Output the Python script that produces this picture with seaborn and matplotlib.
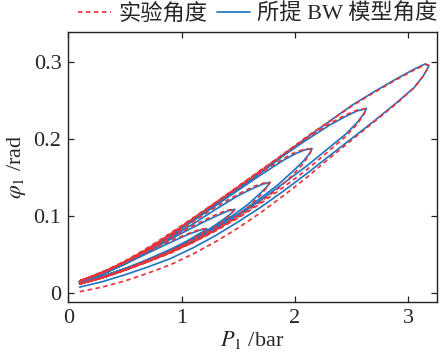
import matplotlib
matplotlib.use('Agg')
import matplotlib.pyplot as plt
import seaborn as sns
import pandas as pd

# ---- data: six hysteresis loops, P1 (bar) vs phi1 (rad) ----
# each loop: lower (loading) branch then upper (unloading) branch
loop1_low_p = [0.10, 0.30, 0.50, 0.70, 0.90, 1.10, 1.30, 1.50, 1.70, 1.90, 2.10, 2.30, 2.50, 2.70, 2.90, 3.05, 3.13, 3.17, 3.18]
loop1_low_model = [0.008, 0.015, 0.024, 0.034, 0.045, 0.059, 0.075, 0.093, 0.112, 0.133, 0.155, 0.178, 0.201, 0.224, 0.248, 0.267, 0.282, 0.292, 0.296]
loop1_low_exp = [0.002, 0.008, 0.016, 0.026, 0.037, 0.051, 0.067, 0.085, 0.105, 0.127, 0.150, 0.175, 0.199, 0.223, 0.247, 0.267, 0.282, 0.292, 0.296]
loop1_up_p = [3.18, 3.15, 3.05, 2.90, 2.70, 2.50, 2.30, 2.10, 1.90, 1.70, 1.50, 1.30, 1.10, 0.90, 0.70, 0.50, 0.35, 0.20, 0.10]
loop1_up_model = [0.296, 0.298, 0.291, 0.279, 0.262, 0.244, 0.223, 0.202, 0.180, 0.158, 0.137, 0.116, 0.096, 0.076, 0.057, 0.040, 0.030, 0.021, 0.015]
loop1_up_exp = [0.296, 0.297, 0.290, 0.278, 0.261, 0.243, 0.223, 0.203, 0.181, 0.160, 0.139, 0.118, 0.098, 0.078, 0.059, 0.042, 0.031, 0.022, 0.016]

loop2_low_p = [0.10, 0.30, 0.50, 0.70, 0.90, 1.10, 1.30, 1.50, 1.70, 1.90, 2.10, 2.30, 2.45, 2.55, 2.61, 2.63]
loop2_low_model = [0.014, 0.022, 0.032, 0.042, 0.053, 0.067, 0.083, 0.101, 0.121, 0.143, 0.165, 0.189, 0.207, 0.222, 0.234, 0.240]
loop2_low_exp = [0.012, 0.020, 0.030, 0.041, 0.052, 0.066, 0.081, 0.098, 0.117, 0.138, 0.160, 0.185, 0.204, 0.220, 0.233, 0.240]
loop2_up_p = [2.63, 2.55, 2.45, 2.30, 2.10, 1.90, 1.70, 1.50, 1.30, 1.10, 0.90, 0.70, 0.50, 0.35, 0.20, 0.10]
loop2_up_model = [0.240, 0.237, 0.230, 0.218, 0.199, 0.179, 0.157, 0.136, 0.115, 0.095, 0.075, 0.056, 0.039, 0.029, 0.020, 0.015]
loop2_up_exp = [0.240, 0.238, 0.232, 0.220, 0.201, 0.181, 0.160, 0.139, 0.118, 0.097, 0.077, 0.058, 0.041, 0.030, 0.021, 0.016]

loop3_low_p = [0.10, 0.30, 0.50, 0.70, 0.90, 1.10, 1.30, 1.50, 1.70, 1.85, 1.97, 2.07, 2.13, 2.15]
loop3_low_model = [0.013, 0.021, 0.031, 0.042, 0.054, 0.068, 0.085, 0.103, 0.124, 0.141, 0.157, 0.171, 0.182, 0.188]
loop3_low_exp = [0.012, 0.020, 0.030, 0.041, 0.053, 0.066, 0.082, 0.099, 0.119, 0.136, 0.152, 0.168, 0.181, 0.188]
loop3_up_p = [2.15, 2.08, 2.00, 1.90, 1.70, 1.50, 1.30, 1.10, 0.90, 0.70, 0.50, 0.35, 0.20, 0.10]
loop3_up_model = [0.188, 0.186, 0.181, 0.173, 0.154, 0.134, 0.114, 0.094, 0.074, 0.055, 0.039, 0.028, 0.020, 0.015]
loop3_up_exp = [0.188, 0.187, 0.183, 0.175, 0.157, 0.137, 0.117, 0.097, 0.076, 0.057, 0.041, 0.030, 0.021, 0.016]

loop4_low_p = [0.10, 0.30, 0.50, 0.70, 0.90, 1.10, 1.30, 1.45, 1.58, 1.68, 1.75, 1.78]
loop4_low_model = [0.013, 0.021, 0.031, 0.042, 0.055, 0.070, 0.087, 0.101, 0.115, 0.128, 0.138, 0.144]
loop4_low_exp = [0.012, 0.020, 0.030, 0.041, 0.053, 0.067, 0.083, 0.097, 0.111, 0.125, 0.137, 0.144]
loop4_up_p = [1.78, 1.72, 1.64, 1.50, 1.30, 1.10, 0.90, 0.70, 0.50, 0.35, 0.20, 0.10]
loop4_up_model = [0.144, 0.142, 0.137, 0.127, 0.109, 0.090, 0.072, 0.054, 0.038, 0.028, 0.020, 0.015]
loop4_up_exp = [0.144, 0.143, 0.139, 0.129, 0.112, 0.093, 0.074, 0.056, 0.040, 0.029, 0.021, 0.016]

loop5_low_p = [0.10, 0.30, 0.50, 0.70, 0.90, 1.10, 1.25, 1.36, 1.43, 1.47]
loop5_low_model = [0.013, 0.021, 0.031, 0.043, 0.056, 0.071, 0.084, 0.095, 0.103, 0.109]
loop5_low_exp = [0.012, 0.020, 0.030, 0.041, 0.054, 0.068, 0.081, 0.093, 0.102, 0.109]
loop5_up_p = [1.47, 1.41, 1.33, 1.20, 1.00, 0.80, 0.60, 0.40, 0.25, 0.10]
loop5_up_model = [0.109, 0.107, 0.102, 0.093, 0.078, 0.062, 0.046, 0.032, 0.023, 0.015]
loop5_up_exp = [0.109, 0.108, 0.104, 0.095, 0.080, 0.064, 0.048, 0.034, 0.024, 0.016]

loop6_low_p = [0.10, 0.30, 0.50, 0.70, 0.90, 1.05, 1.15, 1.20, 1.22]
loop6_low_model = [0.013, 0.022, 0.032, 0.044, 0.057, 0.068, 0.077, 0.081, 0.084]
loop6_low_exp = [0.012, 0.021, 0.031, 0.043, 0.055, 0.066, 0.075, 0.080, 0.084]
loop6_up_p = [1.22, 1.16, 1.05, 0.90, 0.70, 0.50, 0.30, 0.10]
loop6_up_model = [0.084, 0.082, 0.076, 0.066, 0.052, 0.038, 0.025, 0.015]
loop6_up_exp = [0.084, 0.083, 0.077, 0.068, 0.054, 0.040, 0.027, 0.016]

x_ticks = [0, 1, 2, 3]
y_ticks = [0, 0.1, 0.2, 0.3]
y_tick_labels = ['0', '0.1', '0.2', '0.3']
label_exp = '实验角度'
label_model = '所提 BW 模型角度'

# ---- build one continuous trajectory per series ----
branches = [
    (loop1_low_p, loop1_low_model, loop1_low_exp), (loop1_up_p, loop1_up_model, loop1_up_exp),
    (loop2_low_p, loop2_low_model, loop2_low_exp), (loop2_up_p, loop2_up_model, loop2_up_exp),
    (loop3_low_p, loop3_low_model, loop3_low_exp), (loop3_up_p, loop3_up_model, loop3_up_exp),
    (loop4_low_p, loop4_low_model, loop4_low_exp), (loop4_up_p, loop4_up_model, loop4_up_exp),
    (loop5_low_p, loop5_low_model, loop5_low_exp), (loop5_up_p, loop5_up_model, loop5_up_exp),
    (loop6_low_p, loop6_low_model, loop6_low_exp), (loop6_up_p, loop6_up_model, loop6_up_exp),
]
p_all, model_all, exp_all = [], [], []
for p, m, e in branches:
    p_all += p
    model_all += m
    exp_all += e
df = pd.DataFrame({'P': p_all, 'model': model_all, 'exp': exp_all})

sns.set_style('ticks')
plt.rcParams['font.family'] = ['Liberation Serif', 'Noto Sans CJK SC', 'DejaVu Sans']
plt.rcParams['mathtext.fontset'] = 'stix'
plt.rcParams['font.size'] = 16

blue = '#2477c0'
red = '#e8343a'

fig = plt.figure(figsize=(4.46, 3.61), dpi=100)
ax = fig.add_axes([0.1534, 0.1643, 0.9791 - 0.1534, 0.9105 - 0.1643])

sns.lineplot(data=df, x='P', y='model', sort=False, estimator=None, ax=ax,
             color=blue, linewidth=1.25, label=label_model)
sns.lineplot(data=df, x='P', y='exp', sort=False, estimator=None, ax=ax,
             color=red, linewidth=1.25, dashes=False, label=label_exp)
ax.lines[-1].set_linestyle((0, (2.6, 2.0)))

ax.set_xlim(0, 3.25)
ax.set_ylim(-0.011, 0.339)
ax.set_xticks(x_ticks)
ax.set_xticklabels([str(t) for t in x_ticks])
ax.set_yticks(y_ticks)
ax.set_yticklabels(y_tick_labels)
ax.tick_params(direction='in', top=True, right=True, length=4, width=0.9,
               labelsize=16, pad=5, color='#222222')
for s in ax.spines.values():
    s.set_linewidth(1.0)
    s.set_color('#222222')

ax.set_xlabel(r'$P_1$ /bar', fontsize=16, labelpad=1)
ax.set_ylabel(r'$\varphi_1$ /rad', fontsize=16, labelpad=4)

handles, labels = ax.get_legend_handles_labels()
order = [labels.index(label_exp), labels.index(label_model)]
ax.legend([handles[i] for i in order], [labels[i] for i in order],
          loc='center left', bbox_to_anchor=(78 / 446, 1 - 14 / 361),
          bbox_transform=fig.transFigure, ncol=2, frameon=False,
          borderpad=0, borderaxespad=0, handlelength=1.5, handletextpad=0.3,
          columnspacing=0.45, fontsize=16)

fig.savefig('out.png', dpi=100)
